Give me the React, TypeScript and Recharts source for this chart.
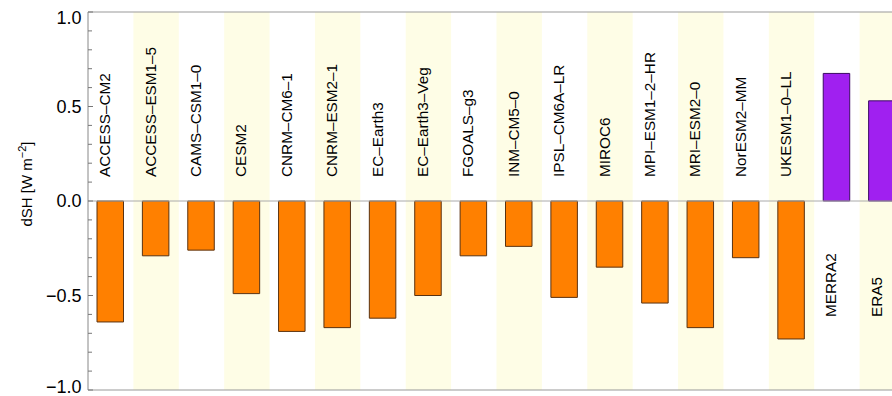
import React from 'react';
import { BarChart, Bar, XAxis, YAxis, Cell, ReferenceArea, ReferenceLine, LabelList, Label } from 'recharts';

const categories = [
  'ACCESS–CM2', 'ACCESS–ESM1–5', 'CAMS–CSM1–0', 'CESM2', 'CNRM–CM6–1', 'CNRM–ESM2–1',
  'EC–Earth3', 'EC–Earth3–Veg', 'FGOALS–g3', 'INM–CM5–0', 'IPSL–CM6A–LR', 'MIROC6',
  'MPI–ESM1–2–HR', 'MRI–ESM2–0', 'NorESM2–MM', 'UKESM1–0–LL', 'MERRA2', 'ERA5',
];
const dSH = [
  -0.64, -0.29, -0.26, -0.49, -0.69, -0.67,
  -0.62, -0.50, -0.29, -0.24, -0.51, -0.35,
  -0.54, -0.67, -0.30, -0.73, 0.675, 0.53,
];
const reanalyses = ['MERRA2', 'ERA5'];
const yTicks = [-1.0, -0.9, -0.8, -0.7, -0.6, -0.5, -0.4, -0.3, -0.2, -0.1, 0.0, 0.1, 0.2, 0.3, 0.4, 0.5, 0.6, 0.7, 0.8, 0.9, 1.0];
const yTickLabels = [-1.0, -0.5, 0.0, 0.5, 1.0];

const data = categories.map((name, i) => ({ name, dSH: dSH[i] }));
const FONT = '"Liberation Sans", Arial, Helvetica, sans-serif';

const fmt = (v: number) => (v < 0 ? '\u2212' : '') + Math.abs(v).toFixed(1);

const YTick = (props: any) => {
  const { x, y, payload } = props;
  const v = payload.value as number;
  const major = yTickLabels.some((t) => Math.abs(t - v) < 1e-6);
  let dy = 6;
  if (Math.abs(v - 1) < 1e-6) dy = 12;
  if (Math.abs(v + 1) < 1e-6) dy = 3;
  return (
    <g>
      <line x1={x} x2={x + (major ? 5 : 4)} y1={y} y2={y} stroke="#777" strokeWidth={1} />
      {major && (
        <text x={x - 6.5} y={y} dy={dy} textAnchor="end" fontSize={18} fontFamily={FONT} fill="#000">
          {fmt(v)}
        </text>
      )}
    </g>
  );
};

const NameLabel = (props: any) => {
  const { x, y, width, height, index, value } = props;
  const top = Math.min(y, y + height);
  const bottom = Math.max(y, y + height);
  const v = dSH[index];
  const cx = x + width / 2;
  const zeroY = v < 0 ? top : bottom;
  const ly = v < 0 ? zeroY - 24 : zeroY + 116;
  return (
    <text
      x={cx}
      y={ly}
      textAnchor="start"
      fontSize={15.3}
      fontFamily={FONT}
      fill="#000"
      transform={`rotate(-90, ${cx}, ${ly})`}
    >
      {value}
    </text>
  );
};

const YLabel = (props: any) => {
  const vb = props.viewBox || { x: 0, y: 12, width: 88, height: 378 };
  const lx = vb.x + 32;
  const ly = vb.y + vb.height / 2 - 17;
  return (
    <text
      x={lx}
      y={ly}
      textAnchor="middle"
      fontSize={15}
      fontFamily={FONT}
      fill="#000"
      transform={`rotate(-90, ${lx}, ${ly})`}
    >
      <tspan>dSH [W m</tspan>
      <tspan dy={-6} fontSize={11}>{'\u2212'}2</tspan>
      <tspan dy={6}>]</tspan>
    </text>
  );
};

export default function App() {
  return (
    <div style={{ position: 'absolute', left: 0, top: 0, width: 892, height: 396, overflow: 'hidden', background: '#fff' }}>
      <BarChart
        width={905}
        height={396}
        data={data}
        margin={{ top: 12, right: 0, bottom: 6, left: 0 }}
        barSize={26.5}
      >
        <XAxis dataKey="name" hide />
        <YAxis
          type="number"
          domain={[-1, 1]}
          ticks={yTicks}
          interval={0}
          width={88}
          tickSize={0}
          tickMargin={0}
          tick={<YTick />}
          axisLine={{ stroke: '#888', strokeWidth: 1 }}
          tickLine={false}
          allowDataOverflow
        >
          <Label content={<YLabel />} />
        </YAxis>
        <ReferenceLine y={1} stroke="#999" strokeWidth={1} ifOverflow="extendDomain" />
        <ReferenceLine y={-1} stroke="#999" strokeWidth={1} ifOverflow="extendDomain" />
        {categories.map((c, i) =>
          i % 2 === 1 ? (
            <ReferenceArea key={c} x1={c} x2={c} y1={-1} y2={1} fill="#FEFDE6" fillOpacity={1} stroke="none" />
          ) : null
        )}
        <ReferenceLine y={0} stroke="#aaa" strokeWidth={1} />
        <Bar dataKey="dSH" isAnimationActive={false}>
          {data.map((d) => {
            const re = reanalyses.includes(d.name);
            return (
              <Cell
                key={d.name}
                fill={re ? '#A020F0' : '#FF8000'}
                stroke={re ? '#3C0A64' : '#5A3210'}
                strokeWidth={1}
              />
            );
          })}
          <LabelList dataKey="name" content={<NameLabel />} />
        </Bar>
      </BarChart>
    </div>
  );
}
